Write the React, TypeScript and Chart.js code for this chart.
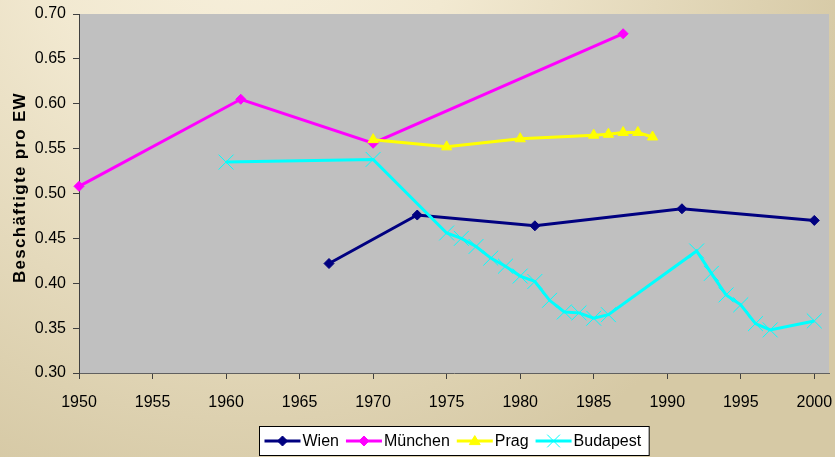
import React, { useEffect, useRef } from "react";
import { Chart, registerables } from "chart.js";

Chart.register(...registerables);

const wienYears = [1967, 1973, 1981, 1991, 2000];
const wienValues = [0.422, 0.476, 0.464, 0.483, 0.470];

const muenchenYears = [1950, 1961, 1970, 1987];
const muenchenValues = [0.508, 0.605, 0.556, 0.678];

const pragYears = [1970, 1975, 1980, 1985, 1986, 1987, 1988, 1989];
const pragValues = [0.560, 0.552, 0.561, 0.565, 0.566, 0.568, 0.568, 0.563];

const budapestYears = [1960, 1970, 1975, 1976, 1977, 1978, 1979, 1980, 1981, 1982, 1983, 1984, 1985, 1986, 1992, 1993, 1994, 1995, 1996, 1997, 2000];
const budapestValues = [0.535, 0.538, 0.456, 0.450, 0.441, 0.428, 0.419, 0.408, 0.402, 0.381, 0.368, 0.367, 0.361, 0.365, 0.436, 0.411, 0.387, 0.376, 0.355, 0.348, 0.358];

const seriesNames = ["Wien", "München", "Prag", "Budapest"];
const yTitle = "Beschäftigte pro EW";

const FONT = "'Liberation Sans', Arial, sans-serif";

const toXY = (xs: number[], ys: number[]) => xs.map((x, i) => ({ x, y: ys[i] }));

function drawMarker(ctx: CanvasRenderingContext2D, style: string, r: number, color: string, x: number, y: number) {
  ctx.save();
  ctx.fillStyle = color;
  ctx.strokeStyle = color;
  ctx.lineWidth = 1;
  ctx.beginPath();
  if (style === "rectRot") {
    ctx.moveTo(x, y - r);
    ctx.lineTo(x + r, y);
    ctx.lineTo(x, y + r);
    ctx.lineTo(x - r, y);
    ctx.closePath();
    ctx.fill();
    ctx.stroke();
  } else if (style === "triangle") {
    const h = r * 1.5;
    ctx.moveTo(x, y - h * 0.6);
    ctx.lineTo(x + r * 0.9, y + h * 0.4);
    ctx.lineTo(x - r * 0.9, y + h * 0.4);
    ctx.closePath();
    ctx.fill();
    ctx.stroke();
  } else {
    const d = r * 0.7071;
    ctx.moveTo(x - d, y - d);
    ctx.lineTo(x + d, y + d);
    ctx.moveTo(x + d, y - d);
    ctx.lineTo(x - d, y + d);
    ctx.stroke();
  }
  ctx.restore();
}

export default function App() {
  const ref = useRef<HTMLCanvasElement | null>(null);

  useEffect(() => {
    document.body.style.margin = "0";
    const canvas = ref.current!;
    const styles = [
      { color: "#000080", style: "rectRot", radius: 5, bw: 1 },
      { color: "#FF00FF", style: "rectRot", radius: 5, bw: 1 },
      { color: "#FFFF00", style: "triangle", radius: 6, bw: 1 },
      { color: "#00FFFF", style: "crossRot", radius: 10.5, bw: 1 },
    ];
    const datas = [
      toXY(wienYears, wienValues),
      toXY(muenchenYears, muenchenValues),
      toXY(pragYears, pragValues),
      toXY(budapestYears, budapestValues),
    ];

    const bgPlugin = {
      id: "bg",
      beforeDraw(chart: any) {
        const { ctx, chartArea } = chart;
        ctx.save();
        const g = ctx.createRadialGradient(250, -100, 0, 250, -100, 620);
        g.addColorStop(0, "#F8F1DE");
        g.addColorStop(0.35, "#F2E9D1");
        g.addColorStop(1, "#D6C9A5");
        ctx.fillStyle = g;
        ctx.fillRect(0, 0, chart.width, chart.height);
        ctx.fillStyle = "#C0C0C0";
        ctx.fillRect(chartArea.left, chartArea.top, chartArea.right - chartArea.left, chartArea.bottom - chartArea.top);
        ctx.restore();
      },
    };

    const titlePlugin = {
      id: "yTitle",
      afterDraw(chart: any) {
        const { ctx, chartArea } = chart;
        ctx.save();
        ctx.translate(20, (chartArea.top + chartArea.bottom) / 2 - 6);
        ctx.rotate(-Math.PI / 2);
        ctx.font = `bold 17px ${FONT}`;
        (ctx as any).letterSpacing = "1.3px";
        ctx.fillStyle = "#000000";
        ctx.textAlign = "center";
        ctx.textBaseline = "middle";
        ctx.fillText(yTitle, 0, 0);
        ctx.restore();
      },
    };

    const legendPlugin = {
      id: "customLegend",
      afterDraw(chart: any) {
        const { ctx, chartArea } = chart;
        ctx.save();
        ctx.font = `16px ${FONT}`;
        const lineLen = 36;
        const gapAfterLine = 2;
        const itemGap = 7;
        const padL = 5;
        const padR = 8;
        const widths = seriesNames.map((n) => ctx.measureText(n).width);
        let total = padL + padR;
        widths.forEach((w, i) => {
          total += lineLen + gapAfterLine + w + (i < widths.length - 1 ? itemGap : 0);
        });
        const cx = (chartArea.left + chartArea.right) / 2;
        const left = Math.round(cx - total / 2) + 0.5;
        const top = 426.5;
        const h = 29;
        ctx.fillStyle = "#FFFFFF";
        ctx.fillRect(left, top, total, h);
        ctx.strokeStyle = "#000000";
        ctx.lineWidth = 1;
        ctx.strokeRect(left, top, total, h);
        let x = left + padL;
        const cy = top + h / 2;
        seriesNames.forEach((n, i) => {
          const s = styles[i];
          ctx.strokeStyle = s.color;
          ctx.lineWidth = 3;
          ctx.beginPath();
          ctx.moveTo(x, cy);
          ctx.lineTo(x + lineLen, cy);
          ctx.stroke();
          drawMarker(ctx, s.style, i === 3 ? 9 : s.radius, s.color, x + lineLen / 2, cy);
          x += lineLen + gapAfterLine;
          ctx.fillStyle = "#000000";
          ctx.textBaseline = "middle";
          ctx.textAlign = "left";
          ctx.fillText(n, x, cy + 1);
          x += widths[i] + itemGap;
        });
        ctx.restore();
      },
    };

    const chart = new Chart(canvas, {
      type: "line",
      data: {
        datasets: datas.map((d, i) => ({
          label: seriesNames[i],
          data: d,
          order: datas.length - 1 - i,
          borderColor: styles[i].color,
          backgroundColor: styles[i].color,
          borderWidth: 3,
          pointStyle: styles[i].style as any,
          pointRadius: styles[i].radius,
          pointBorderWidth: styles[i].bw,
          pointBorderColor: styles[i].color,
          pointBackgroundColor: styles[i].color,
          tension: 0,
          fill: false,
          clip: false as any,
        })),
      },
      options: {
        animation: false,
        responsive: false,
        maintainAspectRatio: false,
        layout: { autoPadding: false, padding: { top: 14, right: 6, left: 0, bottom: 0 } },
        plugins: {
          legend: { display: false },
          tooltip: { enabled: false },
        },
        scales: {
          x: {
            type: "linear",
            min: 1950,
            max: 2001,
            afterFit: (s: any) => {
              s.height = 84;
              s.paddingLeft = 0;
              s.paddingRight = 0;
            },
            ticks: {
              stepSize: 5,
              includeBounds: false,
              color: "#000000",
              font: { family: FONT, size: 16 },
              padding: 14,
              maxRotation: 0,
              callback: (v: any) => String(v),
            },
            grid: {
              display: true,
              drawOnChartArea: false,
              drawTicks: true,
              tickLength: 6,
              color: "#404040",
            },
            border: { display: true, color: "#606060", width: 1 },
          },
          y: {
            type: "linear",
            min: 0.3,
            max: 0.7,
            afterFit: (s: any) => {
              s.width = 79;
              s.paddingTop = 0;
              s.paddingBottom = 0;
            },
            ticks: {
              stepSize: 0.05,
              color: "#000000",
              font: { family: FONT, size: 16 },
              padding: 7,
              callback: (v: any) => Number(v).toFixed(2),
            },
            grid: {
              display: true,
              drawOnChartArea: false,
              drawTicks: true,
              tickLength: 6,
              color: "#404040",
            },
            border: { display: true, color: "#404040", width: 1 },
          },
        },
      },
      plugins: [bgPlugin, titlePlugin, legendPlugin],
    });

    return () => chart.destroy();
  }, []);

  return <canvas ref={ref} width={835} height={457} style={{ display: "block" }} />;
}
